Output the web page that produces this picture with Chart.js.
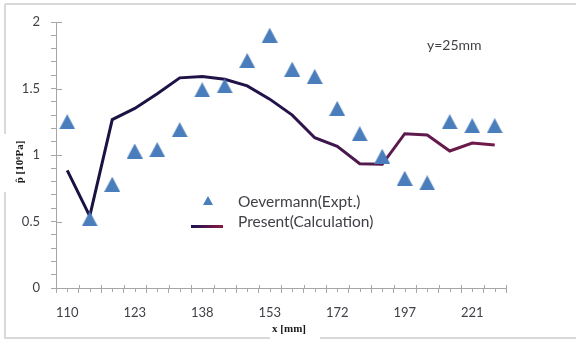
<!DOCTYPE html>
<html>
<head>
<meta charset="utf-8">
<script src="https://cdn.jsdelivr.net/npm/chart.js@4"></script>
<style>
  body { margin: 0; background: #fff; }
  #wrap { width: 576px; height: 340px; }
</style>
</head>
<body>
<div id="wrap"><canvas id="chart" width="576" height="340"></canvas></div>
<script>
// x positions [mm]; only every third one carries a label on the axis
const categories = ['110','','','123','','','138','','','153','','','172','','','197','','','221',''];
// Oevermann (Expt.), p^ [10^6 Pa]
const exptValues = [1.25,0.52,0.78,1.03,1.04,1.19,1.49,1.52,1.71,1.90,1.645,1.59,1.35,1.16,0.99,0.825,0.79,1.25,1.22,1.22];
// Present (Calculation)
const calcValues = [0.885,0.54,1.266,1.35,1.46,1.58,1.59,1.57,1.52,1.42,1.30,1.13,1.065,0.935,0.93,1.16,1.15,1.03,1.09,1.075];
const yLabelled = [0, 0.5, 1, 1.5, 2];

const BLUE = '#4a7dbb';
const AXIS = '#a6a6a6';
const TEXT = '#404048';

// triangle marker as a small canvas so it sits centred on the value
function makeTriangle(w, h) {
    const c = document.createElement('canvas');
    c.width = w; c.height = h;
    const g = c.getContext('2d');
    g.fillStyle = BLUE;
    g.beginPath();
    g.moveTo(w / 2, 0);
    g.lineTo(w, h);
    g.lineTo(0, h);
    g.closePath();
    g.fill();
    return c;
}
const triangleImg = makeTriangle(16, 15);

function calcStroke(context) {
    const { ctx, chartArea } = context.chart;
    if (!chartArea) return '#1e1248';
    const g = ctx.createLinearGradient(chartArea.left, 0, chartArea.right, 0);
    g.addColorStop(0, '#1a1242');
    g.addColorStop(0.5, '#22124a');
    g.addColorStop(0.68, '#521a4e');
    g.addColorStop(1, '#761a4a');
    return g;
}

// frame, minor ticks, axis titles, note and legend
const extras = {
    id: 'extras',
    beforeDraw(chart) {
        const ctx = chart.ctx;
        ctx.save();
        ctx.strokeStyle = '#d9d9d9';
        ctx.lineWidth = 2;
        ctx.beginPath();
        ctx.moveTo(5, 4); ctx.lineTo(576, 4);
        ctx.moveTo(5, 4); ctx.lineTo(5, 134);
        ctx.moveTo(5, 192); ctx.lineTo(5, 338); ctx.lineTo(270, 338);
        ctx.moveTo(320, 338); ctx.lineTo(576, 338);
        ctx.stroke();
        ctx.restore();
    },
    afterDraw(chart) {
        const ctx = chart.ctx;
        const xs = chart.scales.x, ys = chart.scales.y;
        const step = xs.getPixelForValue(1) - xs.getPixelForValue(0);
        ctx.save();
        ctx.strokeStyle = AXIS;
        ctx.lineWidth = 1;
        ctx.beginPath();
        for (let i = 0; i <= categories.length; i++) {
            const px = Math.round(xs.getPixelForValue(i) - step / 2) + 0.5;
            ctx.moveTo(px, ys.bottom - 3); ctx.lineTo(px, ys.bottom);
        }
        for (let i = 0; i < categories.length; i++) {
            const px = Math.round(xs.getPixelForValue(i)) + 0.5;
            ctx.moveTo(px, ys.bottom); ctx.lineTo(px, ys.bottom + 4);
        }
        yLabelled.forEach(v => {
            const py = Math.round(ys.getPixelForValue(v)) + 0.5;
            ctx.moveTo(xs.left, py); ctx.lineTo(xs.left + 6, py);
        });
        ctx.stroke();

        // axis titles
        ctx.fillStyle = '#1a1a1a';
        ctx.font = 'bold 11px "Liberation Serif"';
        ctx.textAlign = 'center';
        ctx.textBaseline = 'middle';
        ctx.fillText('x [mm]', 289, 329);
        ctx.save();
        ctx.translate(20, 162);
        ctx.rotate(-Math.PI / 2);
        ctx.fillText('p\u0302 [10\u2076Pa]', 0, 0);
        ctx.restore();

        // note
        ctx.fillStyle = TEXT;
        ctx.font = '14px Lato';
        ctx.textAlign = 'left';
        ctx.fillText('y=25mm', 427, 45);

        // legend
        ctx.font = '15.5px Lato';
        ctx.drawImage(makeTriangle(10, 9), 203, 196);
        ctx.fillText(chart.data.datasets[0].label, 238, 202);
        const lg = ctx.createLinearGradient(191, 0, 223, 0);
        lg.addColorStop(0, '#1a1250');
        lg.addColorStop(1, '#8a1a40');
        ctx.strokeStyle = lg;
        ctx.lineWidth = 3;
        ctx.beginPath();
        ctx.moveTo(191, 226.5); ctx.lineTo(223, 226.5);
        ctx.stroke();
        ctx.fillStyle = TEXT;
        ctx.fillText(chart.data.datasets[1].label, 238, 222);
        ctx.restore();
    }
};

new Chart(document.getElementById('chart'), {
    type: 'line',
    data: {
        labels: categories,
        datasets: [
            {
                label: 'Oevermann(Expt.)',
                data: exptValues,
                showLine: false,
                pointStyle: triangleImg,
                pointRadius: 8,
                pointHoverRadius: 8
            },
            {
                label: 'Present(Calculation)',
                data: calcValues,
                borderColor: calcStroke,
                borderWidth: 3,
                pointRadius: 0,
                tension: 0
            }
        ]
    },
    options: {
        responsive: false,
        animation: false,
        layout: { padding: { left: 0, right: 70, top: 22, bottom: 0 } },
        plugins: { legend: { display: false }, tooltip: { enabled: false } },
        scales: {
            x: {
                offset: true,
                grid: { offset: true, drawOnChartArea: false, tickLength: 5, color: AXIS },
                border: { display: true, color: AXIS },
                ticks: { autoSkip: false, maxRotation: 0, padding: 12, color: TEXT, font: { family: 'Lato', size: 13 } },
                afterFit: s => { s.height = 52; }
            },
            y: {
                min: 0,
                max: 2,
                grid: { drawOnChartArea: false, tickLength: 5, color: AXIS },
                border: { display: true, color: AXIS },
                ticks: {
                    stepSize: 0.1,
                    maxTicksLimit: 25,
                    autoSkip: false,
                    padding: 11,
                    color: TEXT,
                    font: { family: 'Lato', size: 13 },
                    callback: v => {
                        const r = +v.toFixed(1);
                        return yLabelled.includes(r) ? String(r) : '';
                    }
                },
                afterFit: s => { s.width = 56; }
            }
        }
    },
    plugins: [extras]
});
</script>
</body>
</html>
